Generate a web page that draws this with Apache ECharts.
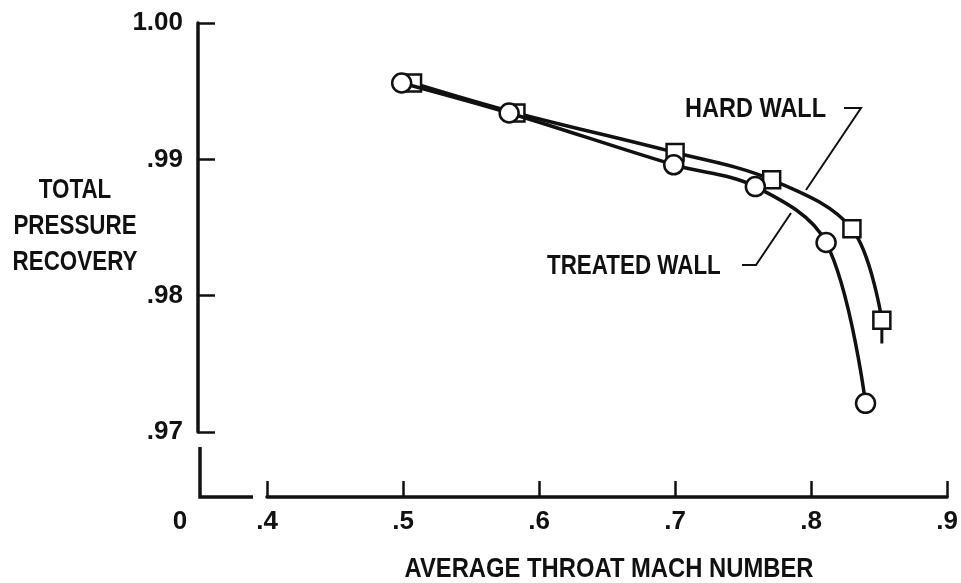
<!DOCTYPE html>
<html>
<head>
<meta charset="utf-8">
<script src="https://cdn.jsdelivr.net/npm/echarts@6/dist/echarts.min.js"></script>
<style>
  html, body { margin: 0; padding: 0; background: #fff; }
  #chart { width: 961px; height: 583px; }
</style>
</head>
<body>
<div id="chart"></div>
<script>
// Hard wall (squares) and treated wall (circles) pressure recovery data
const hardWallMach = [0.507, 0.583, 0.700, 0.771, 0.830, 0.852];
const hardWallRecovery = [0.9956, 0.9934, 0.9905, 0.9885, 0.9849, 0.9782];
// short continuation of the hard-wall curve below its last point
const hardWallTailRecovery = 0.9765;

const treatedMach = [0.499, 0.578, 0.699, 0.759, 0.811, 0.840];
const treatedRecovery = [0.9956, 0.9934, 0.9896, 0.9880, 0.9839, 0.9721];

const xTickLabels = { 4: '.4', 5: '.5', 6: '.6', 7: '.7', 8: '.8', 9: '.9' };
const yTickLabels = { 97: '.97', 98: '.98', 99: '.99', 100: '1.00' };

const FONT = '"Liberation Sans", Arial, sans-serif';
const INK = '#111';

const GRID = { left: 267, right: 12, top: 23, bottom: 151 };
const Y_OFFSET = 69;   // y-axis line pulled left of the plot area
const X_OFFSET = 65;   // x-axis line pushed below the plot area

const pair = (xs, ys) => xs.map((x, i) => [x, ys[i]]);

const chart = echarts.init(document.getElementById('chart'), null, { renderer: 'canvas' });

const axisY = 583 - GRID.bottom + X_OFFSET;   // pixel row of the x-axis line
const axisX = GRID.left - Y_OFFSET;           // pixel column of the y-axis line

// lettering is narrower than the installed fonts, so labels are squeezed horizontally
function label(text, x, y, align, squeeze, extra) {
  return Object.assign({
    type: 'text', silent: true, x: x, y: y, scaleX: squeeze, scaleY: 1,
    style: Object.assign({
      text: text, fill: INK, font: 'bold 28px ' + FONT,
      textAlign: align, textVerticalAlign: 'middle'
    }, extra || {})
  });
}

const option = {
  backgroundColor: '#fff',
  animation: false,
  grid: { left: GRID.left, right: GRID.right, top: GRID.top, bottom: GRID.bottom, containLabel: false },
  xAxis: {
    type: 'value', min: 0.4, max: 0.9, interval: 0.1,
    offset: X_OFFSET,
    axisLine: { show: true, onZero: false, lineStyle: { color: INK, width: 3.5 } },
    axisTick: { show: true, inside: true, length: 16, lineStyle: { color: INK, width: 2.5 } },
    axisLabel: {
      margin: 12, color: INK, fontFamily: FONT, fontSize: 26, fontWeight: 'bold',
      formatter: v => xTickLabels[Math.round(v * 10)] || ''
    },
    splitLine: { show: false }
  },
  yAxis: {
    type: 'value', min: 0.97, max: 1.0, interval: 0.01,
    offset: Y_OFFSET,
    axisLine: { show: true, onZero: false, lineStyle: { color: INK, width: 3.5 } },
    axisTick: { show: true, inside: true, length: 17, lineStyle: { color: INK, width: 2.5 } },
    axisLabel: {
      margin: 15, color: INK, fontFamily: FONT, fontSize: 26, fontWeight: 'bold',
      formatter: v => yTickLabels[Math.round(v * 100)] || ''
    },
    splitLine: { show: false }
  },
  series: [
    {
      name: 'HARD WALL tail', type: 'line', symbol: 'none', silent: true,
      data: [[hardWallMach[hardWallMach.length - 1], hardWallRecovery[hardWallRecovery.length - 1]],
             [hardWallMach[hardWallMach.length - 1], hardWallTailRecovery]],
      lineStyle: { color: INK, width: 3 }, z: 2
    },
    {
      name: 'HARD WALL', type: 'line', smooth: 0.35,
      data: pair(hardWallMach, hardWallRecovery),
      symbol: 'rect', symbolSize: [17, 17],
      itemStyle: { color: '#fff', borderColor: INK, borderWidth: 2.5 },
      lineStyle: { color: INK, width: 3.5 }, z: 3
    },
    {
      name: 'TREATED WALL', type: 'line', smooth: 0.35,
      data: pair(treatedMach, treatedRecovery),
      symbol: 'circle', symbolSize: 19,
      itemStyle: { color: '#fff', borderColor: INK, borderWidth: 2.5 },
      lineStyle: { color: INK, width: 3.5 }, z: 4
    }
  ],
  graphic: [
    // broken-axis corner below the y axis
    {
      type: 'polyline', silent: true,
      shape: { points: [[axisX + 2, 447], [axisX + 2, axisY], [253, axisY]] },
      style: { stroke: INK, lineWidth: 3.5, fill: null }
    },
    label('0', 180, 522, 'center', 1, { font: 'bold 26px ' + FONT }),
    // axis titles
    label('TOTAL\nPRESSURE\nRECOVERY', 75, 226, 'center', 0.8, { lineHeight: 36 }),
    label('AVERAGE THROAT MACH NUMBER', 609, 569, 'center', 0.85),
    // curve labels and leaders
    label('HARD WALL', 685, 109, 'left', 0.84),
    {
      type: 'polyline', silent: true,
      shape: { points: [[844, 108], [861, 108], [806, 190]] },
      style: { stroke: INK, lineWidth: 2, fill: null }
    },
    label('TREATED WALL', 547, 266, 'left', 0.8),
    {
      type: 'polyline', silent: true,
      shape: { points: [[742, 265], [756, 265], [791, 213]] },
      style: { stroke: INK, lineWidth: 2, fill: null }
    }
  ]
};

chart.setOption(option);
</script>
</body>
</html>
